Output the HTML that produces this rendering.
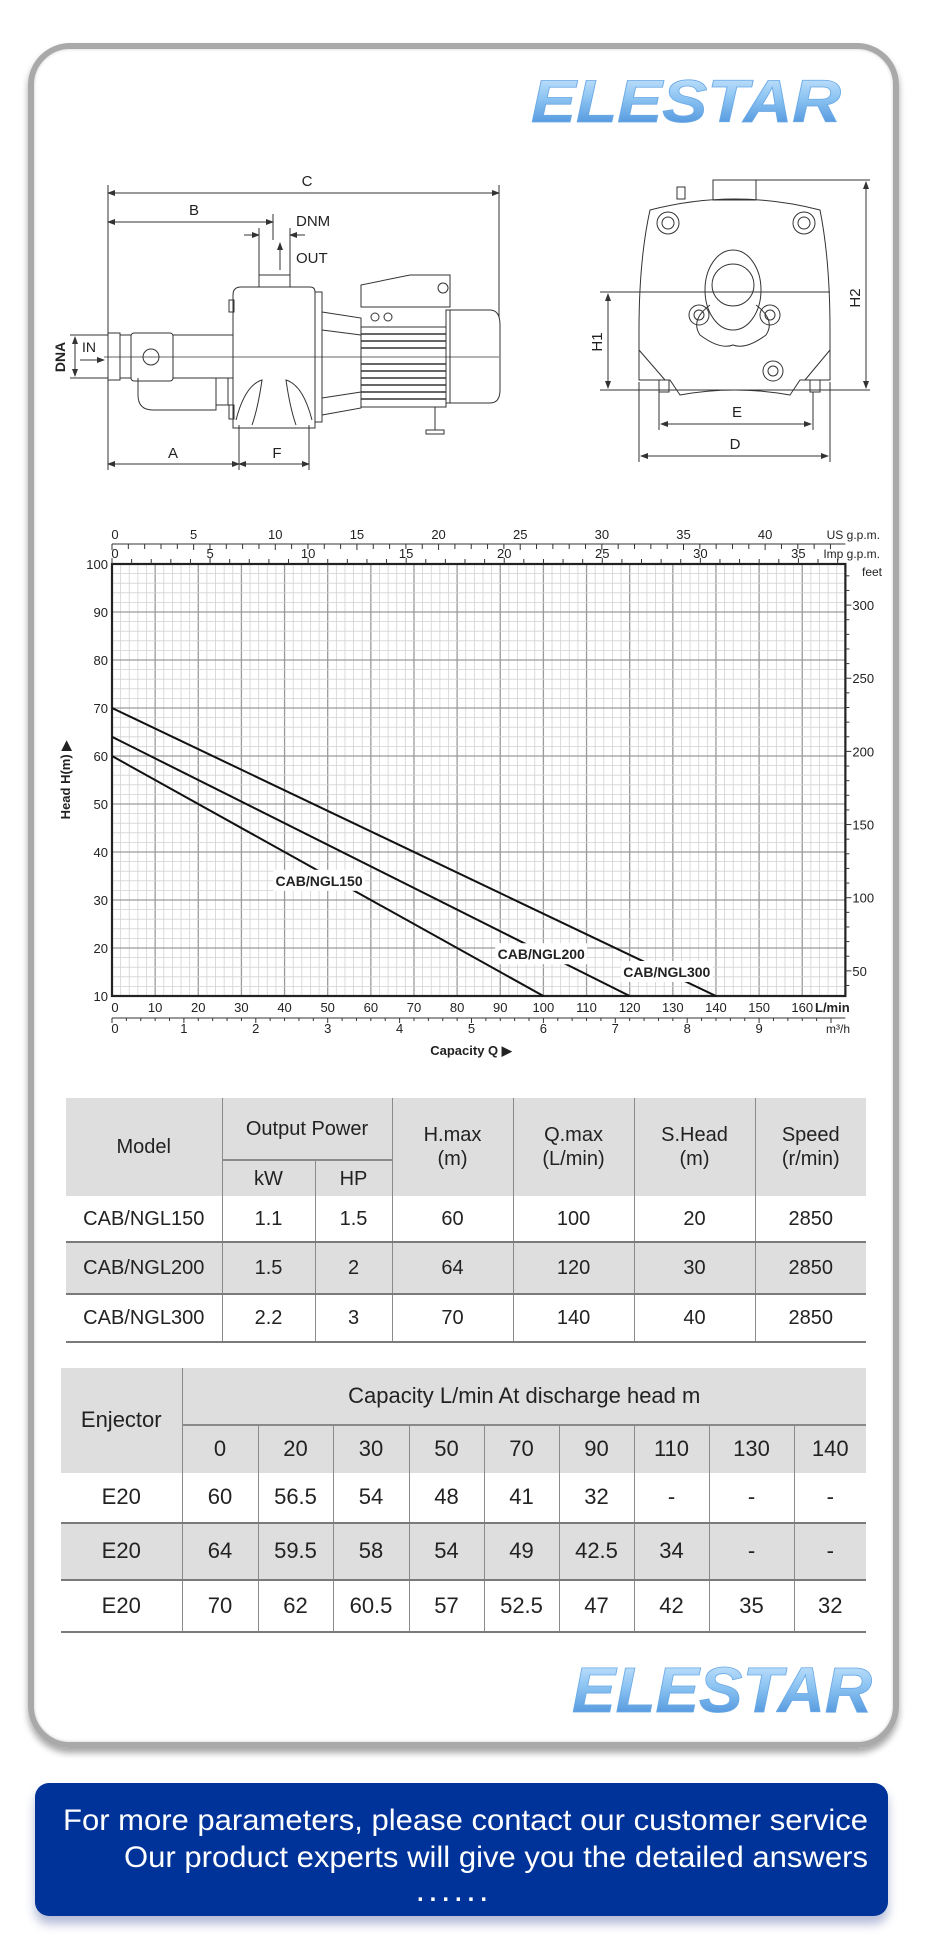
<!DOCTYPE html>
<html><head><meta charset="utf-8">
<style>
html,body{margin:0;padding:0;background:#fff;}
body{width:930px;height:1941px;position:relative;overflow:hidden;font-family:"Liberation Sans",Arial,sans-serif;color:#222;}
.abs{position:absolute;}
#card{left:28px;top:43px;width:859px;height:1693px;border:6px solid #a9a9a9;border-radius:42px;box-shadow:0 5px 7px rgba(0,0,0,.35), inset 0 0 3px rgba(0,0,0,.2);}
table{border-collapse:collapse;position:absolute;table-layout:fixed;}
td{text-align:center;vertical-align:middle;padding:0;line-height:1.2;}
.t1 td{font-size:20px;}
.t2 td{font-size:22px;}
.g{background:#dedede;}
.vl{border-left:1px solid #8a8a8a;}
.bb{border-bottom:2px solid #7a7a7a;}
#cta{left:35px;top:1783px;width:853px;height:133px;background:#003399;border-radius:14px;box-shadow:0 8px 10px rgba(40,60,140,.35);}
</style></head>
<body>
<div id="card" class="abs"></div>

<svg class="abs" style="left:0;top:0" width="930" height="1941">
<defs>
<linearGradient id="lg" x1="0" y1="0" x2="0" y2="1">
<stop offset="0" stop-color="#d6ecff"/><stop offset="0.45" stop-color="#8cc4f2"/><stop offset="1" stop-color="#3d86d6"/>
</linearGradient>
<marker id="ar" markerWidth="8" markerHeight="6" refX="7" refY="3" orient="auto"><path d="M0,0 L8,3 L0,6 Z" fill="#333"/></marker>
<marker id="al" markerWidth="8" markerHeight="6" refX="1" refY="3" orient="auto"><path d="M8,0 L0,3 L8,6 Z" fill="#333"/></marker>
</defs>
<text x="531" y="122" font-family="Liberation Sans" font-weight="bold" font-style="italic" font-size="60" textLength="310" lengthAdjust="spacingAndGlyphs" fill="url(#lg)" stroke="#6aa9e6" stroke-width="0.8">ELESTAR</text>
<text x="572" y="1712" font-family="Liberation Sans" font-weight="bold" font-style="italic" font-size="64" textLength="300" lengthAdjust="spacingAndGlyphs" fill="url(#lg)" stroke="#6aa9e6" stroke-width="0.8">ELESTAR</text>

<!-- side view drawing -->
<g fill="none" stroke="#333" stroke-width="1" font-family="Liberation Sans Narrow, Liberation Sans, sans-serif" font-size="15">
<line x1="108" y1="193" x2="499" y2="193" marker-start="url(#al)" marker-end="url(#ar)"/>
<line x1="108" y1="185" x2="108" y2="470"/><line x1="499" y1="185" x2="499" y2="345"/>
<text x="307" y="186" fill="#222" stroke="none" text-anchor="middle">C</text>
<line x1="108" y1="222" x2="273" y2="222" marker-start="url(#al)" marker-end="url(#ar)"/>
<line x1="273" y1="214" x2="273" y2="240"/>
<text x="194" y="215" fill="#222" stroke="none" text-anchor="middle">B</text>
<text x="296" y="226" fill="#222" stroke="none">DNM</text>
<text x="296" y="263" fill="#222" stroke="none">OUT</text>
<line x1="244" y1="235" x2="259" y2="235" marker-end="url(#ar)"/><line x1="305" y1="235" x2="290" y2="235" marker-end="url(#ar)"/>
<line x1="259" y1="228" x2="259" y2="287"/><line x1="290" y1="228" x2="290" y2="287"/>
<line x1="259" y1="275" x2="290" y2="275"/>
<line x1="280" y1="270" x2="280" y2="243" marker-end="url(#ar)"/>
<path d="M241,287 L310,287 Q315,287 315,292 L315,428 L233,428 L233,295 Q233,287 241,287 Z"/>
<path d="M236,420 Q245,385 262,380 Q258,408 252,425"/><path d="M312,420 Q303,385 286,380 Q290,408 296,425"/>
<rect x="315" y="292" width="7" height="130"/>
<rect x="229" y="300" width="5" height="12"/><rect x="229" y="405" width="5" height="14"/>
<rect x="216" y="355" width="12" height="50"/>
<rect x="108" y="335" width="125" height="43" fill="#fff"/>
<rect x="108" y="333" width="12" height="47" fill="#fff"/>
<rect x="131" y="333" width="42" height="48" rx="3" fill="#fff"/>
<circle cx="151" cy="357" r="8"/>
<path d="M138,378 L138,395 Q138,410 153,410 L216,410 L216,378"/>
<path d="M322,312 L361,318 L361,408 L322,415 Z"/>
<line x1="322" y1="330" x2="361" y2="335"/><line x1="322" y1="398" x2="361" y2="392"/>
<rect x="361" y="327" width="85" height="80" fill="#fff"/>
<g stroke-width="1.4">
<line x1="361" y1="334" x2="446" y2="334"/><line x1="361" y1="341" x2="446" y2="341"/><line x1="361" y1="348" x2="446" y2="348"/><line x1="361" y1="364" x2="446" y2="364"/><line x1="361" y1="371" x2="446" y2="371"/><line x1="361" y1="378" x2="446" y2="378"/><line x1="361" y1="385" x2="446" y2="385"/><line x1="361" y1="392" x2="446" y2="392"/><line x1="361" y1="399" x2="446" y2="399"/>
</g>
<path d="M361,307 L361,285 L410,275 L450,275 L450,307 Z" fill="#fff"/>
<circle cx="375" cy="317" r="4"/><circle cx="388" cy="317" r="4"/><circle cx="443" cy="288" r="5"/>
<path d="M446,310 L490,310 Q500,310 500,325 L500,390 Q500,403 490,403 L446,403 Z" fill="#fff"/>
<line x1="450" y1="310" x2="450" y2="403"/>
<line x1="435" y1="407" x2="435" y2="430"/><rect x="426" y="430" width="18" height="4"/>
<line x1="104" y1="357" x2="499" y2="357" stroke-width="0.8"/>
<line x1="239" y1="425" x2="239" y2="470"/><line x1="309" y1="425" x2="309" y2="470"/>
<line x1="108" y1="464" x2="239" y2="464" marker-start="url(#al)" marker-end="url(#ar)"/>
<line x1="239" y1="464" x2="309" y2="464" marker-start="url(#al)" marker-end="url(#ar)"/>
<text x="173" y="458" fill="#222" stroke="none" text-anchor="middle">A</text>
<text x="277" y="458" fill="#222" stroke="none" text-anchor="middle">F</text>
<line x1="70" y1="335" x2="108" y2="335"/><line x1="70" y1="378" x2="108" y2="378"/>
<line x1="75" y1="337" x2="75" y2="376" marker-start="url(#al)" marker-end="url(#ar)"/>
<text transform="translate(65,357) rotate(-90)" fill="#222" stroke="none" text-anchor="middle" font-weight="bold" font-size="14">DNA</text>
<text x="82" y="352" fill="#222" stroke="none" font-size="14">IN</text>
<line x1="80" y1="360" x2="104" y2="360" marker-end="url(#ar)"/>
</g>

<!-- front view -->
<g fill="none" stroke="#333" stroke-width="1" font-family="Liberation Sans Narrow, Liberation Sans, sans-serif" font-size="15">
<rect x="713" y="180" width="43" height="20"/>
<rect x="677" y="187" width="8" height="12"/>
<path d="M650,210 Q735,188 820,210 Q830,260 830,330 L830,380 L800,380 L790,395 Q735,385 680,395 L670,380 L639,380 L639,330 Q639,260 650,210 Z"/>
<path d="M639,350 L665,380 M830,350 L805,380"/>
<ellipse cx="733" cy="290" rx="28" ry="40"/><circle cx="733" cy="285" r="21"/>
<path d="M710,305 Q690,320 700,335 Q720,350 733,345 Q746,350 766,335 Q776,320 756,305"/>
<circle cx="668" cy="223" r="11"/><circle cx="668" cy="223" r="6"/>
<circle cx="804" cy="223" r="11"/><circle cx="804" cy="223" r="6"/>
<circle cx="699" cy="315" r="10"/><circle cx="699" cy="315" r="5"/>
<circle cx="770" cy="315" r="10"/><circle cx="770" cy="315" r="5"/>
<circle cx="773" cy="371" r="10"/><circle cx="773" cy="371" r="5"/>
<rect x="659" y="380" width="10" height="12"/><rect x="810" y="380" width="10" height="12"/>
<line x1="600" y1="292" x2="830" y2="292"/>
<line x1="600" y1="390" x2="870" y2="390"/>
<line x1="608" y1="294" x2="608" y2="388" marker-start="url(#al)" marker-end="url(#ar)"/>
<text transform="translate(602,342) rotate(-90)" fill="#222" stroke="none" text-anchor="middle">H1</text>
<line x1="756" y1="180" x2="870" y2="180"/>
<line x1="866" y1="182" x2="866" y2="388" marker-start="url(#al)" marker-end="url(#ar)"/>
<text transform="translate(860,298) rotate(-90)" fill="#222" stroke="none" text-anchor="middle">H2</text>
<line x1="659" y1="392" x2="659" y2="430"/><line x1="813" y1="392" x2="813" y2="430"/>
<line x1="639" y1="382" x2="639" y2="462"/><line x1="830" y1="382" x2="830" y2="462"/>
<line x1="661" y1="424" x2="811" y2="424" marker-start="url(#al)" marker-end="url(#ar)"/>
<line x1="641" y1="456" x2="828" y2="456" marker-start="url(#al)" marker-end="url(#ar)"/>
<text x="737" y="417" fill="#222" stroke="none" text-anchor="middle">E</text>
<text x="735" y="449" fill="#222" stroke="none" text-anchor="middle">D</text>
</g>

<g id="chart"></g>

<!-- CTA text -->
</svg>

<table class="t1" style="left:66px;top:1098px;width:800px">
<colgroup><col style="width:156px"><col style="width:93px"><col style="width:77px"><col style="width:121px"><col style="width:121px"><col style="width:121px"><col style="width:111px"></colgroup>
<tr style="height:62px" class="g"><td rowspan="2">Model</td><td colspan="2" class="vl" style="border-bottom:2px solid #8a8a8a">Output Power</td><td rowspan="2" class="vl">H.max<br>(m)</td><td rowspan="2" class="vl">Q.max<br>(L/min)</td><td rowspan="2" class="vl">S.Head<br>(m)</td><td rowspan="2" class="vl">Speed<br>(r/min)</td></tr>
<tr style="height:36px" class="g"><td class="vl">kW</td><td class="vl">HP</td></tr>
<tr style="height:46px" class="bb"><td>CAB/NGL150</td><td class="vl">1.1</td><td class="vl">1.5</td><td class="vl">60</td><td class="vl">100</td><td class="vl">20</td><td class="vl">2850</td></tr>
<tr style="height:52px" class="g bb"><td>CAB/NGL200</td><td class="vl">1.5</td><td class="vl">2</td><td class="vl">64</td><td class="vl">120</td><td class="vl">30</td><td class="vl">2850</td></tr>
<tr style="height:48px" class="bb"><td>CAB/NGL300</td><td class="vl">2.2</td><td class="vl">3</td><td class="vl">70</td><td class="vl">140</td><td class="vl">40</td><td class="vl">2850</td></tr>
</table>

<table class="t2" style="left:61px;top:1368px;width:805px">
<colgroup><col style="width:121px"><col style="width:76px"><col style="width:75px"><col style="width:76px"><col style="width:75px"><col style="width:75px"><col style="width:75px"><col style="width:75px"><col style="width:85px"><col style="width:72px"></colgroup>
<tr style="height:57px" class="g"><td rowspan="2">Enjector</td><td colspan="9" class="vl" style="border-bottom:2px solid #8a8a8a">Capacity L/min At discharge head m</td></tr>
<tr style="height:48px" class="g"><td class="vl">0</td><td class="vl">20</td><td class="vl">30</td><td class="vl">50</td><td class="vl">70</td><td class="vl">90</td><td class="vl">110</td><td class="vl">130</td><td class="vl">140</td></tr>
<tr style="height:50px" class="bb"><td>E20</td><td class="vl">60</td><td class="vl">56.5</td><td class="vl">54</td><td class="vl">48</td><td class="vl">41</td><td class="vl">32</td><td class="vl">-</td><td class="vl">-</td><td class="vl">-</td></tr>
<tr style="height:57px" class="g bb"><td>E20</td><td class="vl">64</td><td class="vl">59.5</td><td class="vl">58</td><td class="vl">54</td><td class="vl">49</td><td class="vl">42.5</td><td class="vl">34</td><td class="vl">-</td><td class="vl">-</td></tr>
<tr style="height:52px" class="bb"><td>E20</td><td class="vl">70</td><td class="vl">62</td><td class="vl">60.5</td><td class="vl">57</td><td class="vl">52.5</td><td class="vl">47</td><td class="vl">42</td><td class="vl">35</td><td class="vl">32</td></tr>
</table>

<div id="cta" class="abs">
<svg width="853" height="133" style="position:absolute;left:0;top:0">
<text x="28" y="47" fill="#fff" font-family="Liberation Sans Narrow, Liberation Sans, sans-serif" font-size="30" textLength="805" lengthAdjust="spacingAndGlyphs">For more parameters, please contact our customer service</text>
<text x="89" y="84" fill="#fff" font-family="Liberation Sans Narrow, Liberation Sans, sans-serif" font-size="30" textLength="744" lengthAdjust="spacingAndGlyphs">Our product experts will give you the detailed answers</text>
<text x="382" y="118" fill="#fff" font-family="Liberation Sans" font-size="24" font-weight="bold" letter-spacing="6">......</text>
</svg>
</div>

<script>
const qTicks = [0,10,20,30,40,50,60,70,80,90,100,110,120,130,140,150,160];
const hTicks = [10,20,30,40,50,60,70,80,90,100];
const m3hTicks = [0,1,2,3,4,5,6,7,8,9];
const usGpmTicks = [0,5,10,15,20,25,30,35,40];
const impGpmTicks = [0,5,10,15,20,25,30,35];
const feetTicks = [50,100,150,200,250,300];
const modelNames = ['CAB/NGL150','CAB/NGL200','CAB/NGL300'];
const curveQ0 = [0,0,0];
const curveH0 = [60,64,70];
const curveQ1 = [100,120,140];
const curveH1 = [10,10,10];
const labelQ = [48,99.5,128.6];
const labelH = [34,18.7,15];

const X0=112, PXL=4.314, Y0=996, PXM=4.8, QMAX=170, HMIN=10, HMAX=100;
function xS(q){return X0+q*PXL;}
function yS(h){return Y0-(h-HMIN)*PXM;}
const NS='http://www.w3.org/2000/svg';
const chart=document.getElementById('chart');
function mk(tag,a,parent){const e=document.createElementNS(NS,tag);for(const k in a)e.setAttribute(k,a[k]);(parent||chart).appendChild(e);return e;}
const FONT='Liberation Sans Narrow, Liberation Sans, sans-serif';

// grid
for(let q=0;q<=QMAX;q+=2){
  const major=q%10===0;
  const el=mk('line',{x1:xS(q),x2:xS(q),y1:yS(HMAX),y2:yS(HMIN),stroke:major?'#9a9a9a':'#d2d2d2','stroke-width':major?1.3:0.8});
  
  
}
for(let h=HMIN;h<=HMAX;h+=2){
  const major=h%10===0;
  const el=mk('line',{x1:xS(0),x2:xS(QMAX),y1:yS(h),y2:yS(h),stroke:major?'#9a9a9a':'#d2d2d2','stroke-width':major?1.3:0.8});
  
  
}
const frame=mk('rect',{x:xS(0),y:yS(HMAX),width:xS(QMAX)-xS(0),height:yS(HMIN)-yS(HMAX),fill:'none',stroke:'#222','stroke-width':2.2});



// left axis labels
hTicks.forEach(h=>{
  const t=mk('text',{x:108,y:yS(h)+5,'text-anchor':'end','font-size':13,'font-family':FONT,fill:'#222'});t.textContent=h;
  
  
});
// bottom L/min labels
qTicks.forEach(q=>{
  const t=mk('text',{x:xS(q)+(q===0?3:0),y:1012,'text-anchor':'middle','font-size':13,'font-family':FONT,fill:'#222'});t.textContent=q;
  
  
});
const lm=mk('text',{x:815,y:1012,'font-size':13,'font-weight':'bold','font-family':FONT,fill:'#222'});lm.textContent='L/min';


// m3/h axis
const m3l=mk('line',{x1:xS(0),x2:xS(QMAX),y1:1018,y2:1018,stroke:'#333','stroke-width':1});


for(let i=0;i<=50;i++){
  const m=i*0.2, q=m*1000/60; if(q>QMAX)break;
  const tk=mk('line',{x1:xS(q),x2:xS(q),y1:1018,y2:i%5===0?1023:1021,stroke:'#333','stroke-width':1});
  
  
}
m3hTicks.forEach(m=>{
  const t=mk('text',{x:xS(m*1000/60)+(m===0?3:0),y:1033,'text-anchor':'middle','font-size':13,'font-family':FONT,fill:'#222'});t.textContent=m;
  
  
});
const mu=mk('text',{x:826,y:1033,'font-size':12,'font-family':FONT,fill:'#222'});mu.textContent='m³/h';


// US gpm axis
const usl=mk('line',{x1:xS(0),x2:xS(QMAX),y1:544,y2:544,stroke:'#333','stroke-width':1});


for(let g=0;g*3.785<=QMAX;g++){
  const tk=mk('line',{x1:xS(g*3.785),x2:xS(g*3.785),y1:544,y2:g%5===0?550:549,stroke:'#333','stroke-width':1});
  
  
}
usGpmTicks.forEach(g=>{
  const t=mk('text',{x:xS(g*3.785)+(g===0?3:0),y:539,'text-anchor':'middle','font-size':13,'font-family':FONT,fill:'#222'});t.textContent=g;
  
  
});
const usu=mk('text',{x:880,y:539,'text-anchor':'end','font-size':12,'font-family':FONT,fill:'#222'});usu.textContent='US g.p.m.';


// Imp gpm axis (ticks up from plot top)
for(let g=0;g*4.546<=QMAX;g++){
  const tk=mk('line',{x1:xS(g*4.546),x2:xS(g*4.546),y1:yS(HMAX),y2:yS(HMAX)-(g%5===0?6:5),stroke:'#333','stroke-width':1});
  
  
}
impGpmTicks.forEach(g=>{
  const t=mk('text',{x:xS(g*4.546)+(g===0?3:0),y:558,'text-anchor':'middle','font-size':13,'font-family':FONT,fill:'#222'});t.textContent=g;
  
  
});
const imu=mk('text',{x:880,y:558,'text-anchor':'end','font-size':12,'font-family':FONT,fill:'#222'});imu.textContent='Imp g.p.m.';


// feet axis
for(let f=40;f<=320;f+=10){
  const h=f*0.3048; if(h<HMIN||h>HMAX)continue;
  const tk=mk('line',{x1:xS(QMAX),x2:xS(QMAX)+(f%50===0?6:4),y1:yS(h),y2:yS(h),stroke:'#333','stroke-width':1});
  
  
}
feetTicks.forEach(f=>{
  const t=mk('text',{x:xS(QMAX)+7,y:yS(f*0.3048)+5,'font-size':13,'font-family':FONT,fill:'#222'});t.textContent=f;
  
  
});
const fu=mk('text',{x:862,y:576,'font-size':12,'font-family':FONT,fill:'#222'});fu.textContent='feet';


// titles
const yt=mk('text',{transform:'translate(70,780) rotate(-90)','text-anchor':'middle','font-size':13,'font-weight':'bold','font-family':'Liberation Sans, sans-serif',fill:'#222'});yt.textContent='Head H(m) ▶';


const xt=mk('text',{x:471,y:1055,'text-anchor':'middle','font-size':13,'font-weight':'bold','font-family':FONT,fill:'#222'});xt.textContent='Capacity Q ▶';


// curves
modelNames.forEach((n,i)=>{
  const ln=mk('line',{x1:xS(curveQ0[i]),y1:yS(curveH0[i]),x2:xS(curveQ1[i]),y2:yS(curveH1[i]),stroke:'#111','stroke-width':2});
  
  
});
modelNames.forEach((n,i)=>{
  const cx=xS(labelQ[i]), cy=yS(labelH[i]);
  const r=mk('rect',{x:cx-46,y:cy-11,width:92,height:21,fill:'#fff'});
  
  
  const t=mk('text',{x:cx,y:cy+5,'text-anchor':'middle','font-size':14,'font-weight':'bold','font-family':FONT,fill:'#222'});t.textContent=n;
  
  
});
</script>
</body></html>
